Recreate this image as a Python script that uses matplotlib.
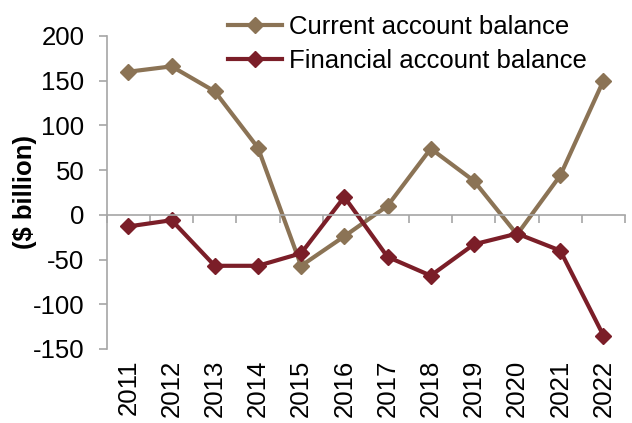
import numpy as np
import matplotlib.pyplot as plt
import matplotlib.transforms as mtransforms

plt.rcParams['font.family'] = ['Liberation Sans', 'DejaVu Sans']
plt.rcParams['axes.unicode_minus'] = False

years = ['2011', '2012', '2013', '2014', '2015', '2016',
         '2017', '2018', '2019', '2020', '2021', '2022']
current = [160, 166, 138, 75, -57, -24, 10, 74, 38, -22, 44, 150]
financial = [-13, -6, -57, -57, -43, 20, -47, -68, -33, -21, -40, -135]

tan = '#8B7355'
maroon = '#7B1E28'
grey = '#A6A6A6'
fs = 18.5

fig = plt.figure(figsize=(6.32, 4.23), dpi=100)
ax = fig.add_axes([0.169, 0.175, 0.82, 0.74])

x = np.arange(len(years))
ax.plot(x, current, color=tan, lw=3, marker='D', ms=8, label='Current account balance')
ax.plot(x, financial, color=maroon, lw=3, marker='D', ms=8, label='Financial account balance')

ax.set_xlim(-0.5, len(years) - 0.5)
ax.set_ylim(-150, 200)
ax.set_yticks(np.arange(-150, 201, 50))
ax.tick_params(axis='y', labelsize=fs, length=6, color=grey, width=1.2, pad=10)

# category axis sits on zero, tick marks between categories
ax.spines['bottom'].set_position(('data', 0))
for s in ['top', 'right']:
    ax.spines[s].set_visible(False)
for s in ['left', 'bottom']:
    ax.spines[s].set_color(grey)
    ax.spines[s].set_linewidth(1.2)
ax.set_xticks(np.arange(-0.5, len(years), 1.0))
ax.set_xticklabels([])
ax.tick_params(axis='x', length=6, color=grey, width=1.2)

trans = mtransforms.blended_transform_factory(ax.transData, ax.transAxes)
for xi, yr in zip(x, years):
    ax.text(xi, -0.035, yr, transform=trans, rotation=90, ha='center', va='top', fontsize=fs)

ax.set_ylabel('($ billion)', fontsize=fs, fontweight='bold')
ax.yaxis.set_label_coords(-0.135, 0.5)

fig.legend(loc='upper left', bbox_to_anchor=(0.345, 0.99), frameon=False, fontsize=fs,
           handlelength=2.1, handletextpad=0.25, labelspacing=0.42, borderaxespad=0)

fig.savefig('out.png', dpi=100)
